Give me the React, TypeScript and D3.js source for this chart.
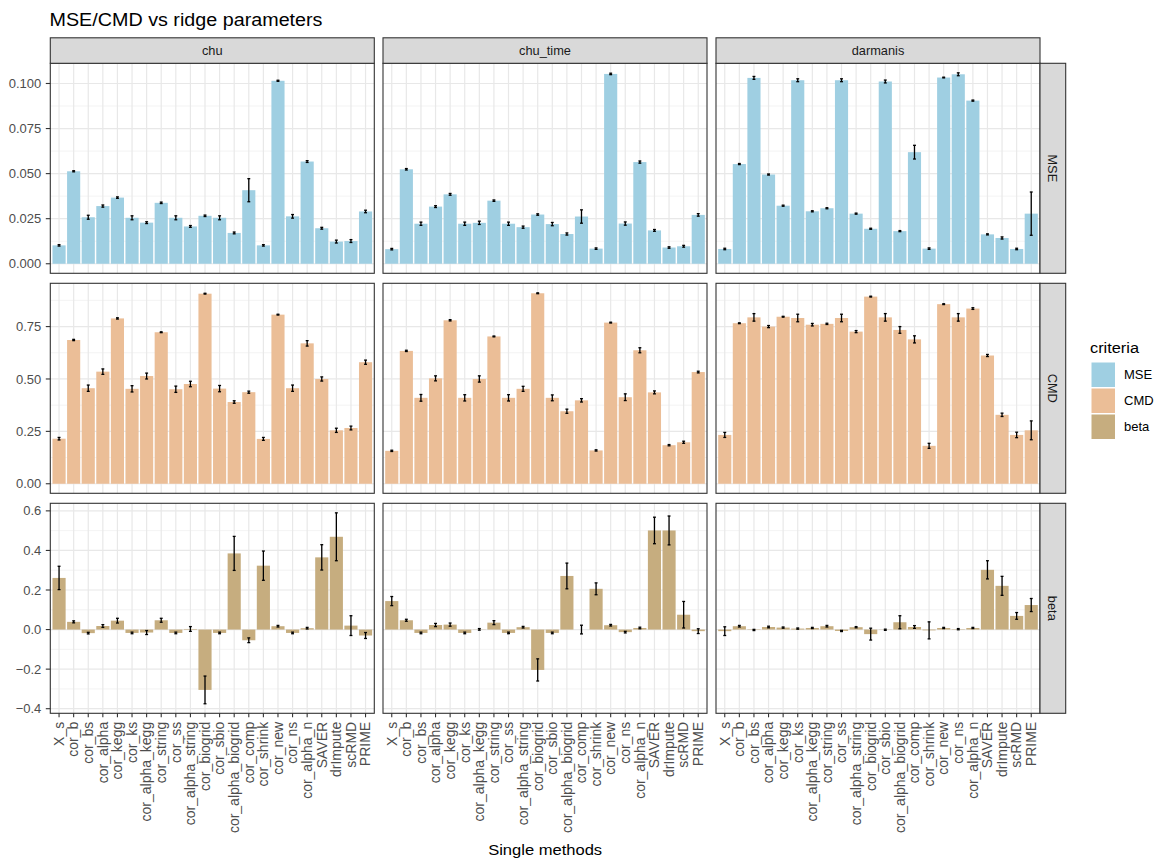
import React from 'react';
import * as d3 from 'd3';

// Methods along the x axis, facet columns (datasets) and facet rows (criteria)
const methods = [
  'X_s', 'cor_b', 'cor_bs', 'cor_alpha', 'cor_kegg', 'cor_ks', 'cor_alpha_kegg',
  'cor_string', 'cor_ss', 'cor_alpha_string', 'cor_biogrid', 'cor_sbio',
  'cor_alpha_biogrid', 'cor_comp', 'cor_shrink', 'cor_new', 'cor_ns',
  'cor_alpha_n', 'SAVER', 'drImpute', 'scRMD', 'PRIME',
];
const datasets = ['chu', 'chu_time', 'darmanis'];
const criteria = ['MSE', 'CMD', 'beta'];
const criteriaColors = ['#9fcfe2', '#ebbe97', '#c6ad7f'];

// MSE
const mseChu = [0.0102, 0.0513, 0.0258, 0.032, 0.0367, 0.0255, 0.0228, 0.0338, 0.0255, 0.0207, 0.0266, 0.0255, 0.0171, 0.0408, 0.0102, 0.1015, 0.0263, 0.0567, 0.0197, 0.0123, 0.0126, 0.029];
const mseChuSe = [0.0004, 0.0003, 0.0011, 0.0006, 0.0004, 0.0011, 0.0005, 0.0004, 0.0011, 0.0005, 0.0004, 0.0011, 0.0005, 0.0064, 0.0004, 0.0003, 0.001, 0.0005, 0.0005, 0.0008, 0.0008, 0.0007];
const mseChuTime = [0.0081, 0.0524, 0.0222, 0.0317, 0.0385, 0.0222, 0.0227, 0.035, 0.0222, 0.0203, 0.0273, 0.022, 0.0165, 0.0262, 0.0084, 0.1053, 0.0223, 0.0564, 0.0185, 0.009, 0.0097, 0.0271];
const mseChuTimeSe = [0.0004, 0.0004, 0.0009, 0.0005, 0.0005, 0.0009, 0.0009, 0.0004, 0.0009, 0.0006, 0.0004, 0.0009, 0.0006, 0.0037, 0.0004, 0.0004, 0.0009, 0.0006, 0.0005, 0.0004, 0.0005, 0.0007];
const mseDarmanis = [0.0082, 0.0553, 0.1031, 0.0495, 0.0322, 0.1018, 0.0291, 0.0308, 0.1018, 0.0278, 0.0194, 0.1011, 0.0181, 0.0619, 0.0084, 0.1033, 0.1051, 0.0905, 0.0163, 0.0143, 0.0082, 0.0278];
const mseDarmanisSe = [0.0004, 0.0003, 0.0008, 0.0003, 0.0003, 0.0008, 0.0003, 0.0003, 0.0008, 0.0003, 0.0003, 0.0008, 0.0003, 0.0038, 0.0004, 0.0002, 0.0008, 0.0003, 0.0003, 0.0006, 0.0004, 0.012];

// CMD
const cmdChu = [0.215, 0.686, 0.456, 0.535, 0.789, 0.453, 0.514, 0.723, 0.451, 0.476, 0.907, 0.454, 0.39, 0.437, 0.214, 0.807, 0.456, 0.67, 0.5, 0.255, 0.266, 0.58];
const cmdChuSe = [0.006, 0.003, 0.015, 0.013, 0.003, 0.015, 0.014, 0.002, 0.015, 0.013, 0.002, 0.015, 0.006, 0.005, 0.007, 0.002, 0.015, 0.013, 0.01, 0.01, 0.009, 0.01];
const cmdChuTime = [0.157, 0.634, 0.41, 0.503, 0.78, 0.41, 0.5, 0.703, 0.41, 0.453, 0.909, 0.41, 0.346, 0.398, 0.159, 0.769, 0.413, 0.637, 0.436, 0.184, 0.198, 0.533];
const cmdChuTimeSe = [0.003, 0.003, 0.016, 0.012, 0.003, 0.015, 0.015, 0.002, 0.015, 0.012, 0.002, 0.014, 0.01, 0.008, 0.003, 0.002, 0.016, 0.012, 0.007, 0.003, 0.005, 0.004];
const cmdDarmanis = [0.233, 0.766, 0.794, 0.75, 0.797, 0.791, 0.759, 0.763, 0.791, 0.726, 0.893, 0.794, 0.734, 0.689, 0.181, 0.857, 0.794, 0.836, 0.612, 0.329, 0.233, 0.255];
const cmdDarmanisSe = [0.012, 0.002, 0.018, 0.005, 0.002, 0.018, 0.006, 0.003, 0.018, 0.005, 0.002, 0.018, 0.016, 0.017, 0.012, 0.002, 0.018, 0.004, 0.005, 0.008, 0.013, 0.045];

// beta
const betaChu = [0.261, 0.039, -0.018, 0.018, 0.045, -0.017, -0.015, 0.047, -0.017, 0.003, -0.305, -0.017, 0.385, -0.054, 0.323, 0.017, -0.017, 0.007, 0.365, 0.469, 0.02, -0.03];
const betaChuSe = [0.059, 0.005, 0.004, 0.007, 0.012, 0.004, 0.01, 0.01, 0.004, 0.012, 0.07, 0.004, 0.086, 0.012, 0.074, 0.004, 0.004, 0.004, 0.064, 0.121, 0.05, 0.015];
const betaChuTime = [0.144, 0.047, -0.017, 0.023, 0.025, -0.017, 0.001, 0.035, -0.017, 0.012, -0.204, -0.017, 0.271, 0.0, 0.206, 0.022, -0.013, 0.008, 0.501, 0.501, 0.075, -0.008];
const betaChuTimeSe = [0.023, 0.005, 0.004, 0.008, 0.008, 0.004, 0.004, 0.01, 0.004, 0.004, 0.056, 0.004, 0.065, 0.022, 0.03, 0.004, 0.004, 0.004, 0.067, 0.073, 0.067, 0.012];
const betaDarmanis = [-0.008, 0.017, -0.002, 0.013, 0.01, 0.005, 0.008, 0.017, -0.007, 0.012, -0.023, -0.001, 0.037, 0.013, -0.004, 0.008, 0.002, 0.008, 0.302, 0.221, 0.069, 0.124];
const betaDarmanisSe = [0.022, 0.004, 0.003, 0.004, 0.003, 0.003, 0.003, 0.004, 0.003, 0.003, 0.03, 0.003, 0.033, 0.007, 0.043, 0.003, 0.003, 0.003, 0.046, 0.048, 0.017, 0.033];

// Y axis breaks per criterion row
const mseTicks = [0, 0.025, 0.05, 0.075, 0.1];
const cmdTicks = [0, 0.25, 0.5, 0.75];
const betaTicks = [-0.4, -0.2, 0, 0.2, 0.4, 0.6];
const tickFormats = ['.3f', '.2f', '.1f'];

// [row][col] lookup tables
const values = [
  [mseChu, mseChuTime, mseDarmanis],
  [cmdChu, cmdChuTime, cmdDarmanis],
  [betaChu, betaChuTime, betaDarmanis],
];
const errors = [
  [mseChuSe, mseChuTimeSe, mseDarmanisSe],
  [cmdChuSe, cmdChuTimeSe, cmdDarmanisSe],
  [betaChuSe, betaChuTimeSe, betaDarmanisSe],
];
const rowTicks = [mseTicks, cmdTicks, betaTicks];

// Layout
const W = 1161;
const H = 860;
const colLeft = [50.3, 383, 716];
const panelW = 324;
const rowTop = [63.3, 283.3, 503.3];
const panelH = 210;
const stripH = 25.5;
const stripW = 25.7;
const FONT = '"Liberation Sans", Arial, Helvetica, sans-serif';

function rowScale(r: number) {
  const lows: number[] = [0];
  const highs: number[] = [0];
  values[r].forEach((vals, c) => {
    vals.forEach((v, i) => {
      const e = errors[r][c][i];
      lows.push(v - e, v);
      highs.push(v + e, v);
    });
  });
  const lo = d3.min(lows) as number;
  const hi = d3.max(highs) as number;
  const pad = (hi - lo) * 0.05;
  return d3.scaleLinear().domain([lo - pad, hi + pad]).range([rowTop[r] + panelH, rowTop[r]]);
}

function minorBreaks(ticks: number[], domain: number[]) {
  const step = ticks[1] - ticks[0];
  const out: number[] = [];
  for (let t = ticks[0] - step / 2; t <= ticks[ticks.length - 1] + step / 2 + 1e-9; t += step) {
    if (t >= domain[0] && t <= domain[1]) out.push(t);
  }
  return out;
}

export default function App() {
  const yScales = criteria.map((_, r) => rowScale(r));

  const panels: React.ReactNode[] = [];
  criteria.forEach((crit, r) => {
    const y = yScales[r];
    const dom = y.domain();
    const minors = minorBreaks(rowTicks[r], dom);
    datasets.forEach((ds, c) => {
      const x = d3.scalePoint<string>()
        .domain(methods)
        .range([colLeft[c], colLeft[c] + panelW])
        .padding(0.6);
      const step = x.step();
      const barW = step * 0.9;
      const capW = step * 0.2;
      const vals = values[r][c];
      const errs = errors[r][c];
      panels.push(
        <g key={`p-${r}-${c}`}>
          <rect x={colLeft[c]} y={rowTop[r]} width={panelW} height={panelH} fill="#ffffff" />
          {minors.map((t) => (
            <line key={`mi${t}`} x1={colLeft[c]} x2={colLeft[c] + panelW} y1={y(t)} y2={y(t)} stroke="#ebebeb" strokeWidth={0.6} />
          ))}
          {rowTicks[r].map((t) => (
            <line key={`ma${t}`} x1={colLeft[c]} x2={colLeft[c] + panelW} y1={y(t)} y2={y(t)} stroke="#e8e8e8" strokeWidth={1.2} />
          ))}
          {methods.map((m) => (
            <line key={`v${m}`} x1={x(m)} x2={x(m)} y1={rowTop[r]} y2={rowTop[r] + panelH} stroke="#e8e8e8" strokeWidth={1.2} />
          ))}
          {methods.map((m, i) => {
            const v = vals[i];
            const y0 = y(0);
            const y1 = y(v);
            return (
              <rect key={`b${m}`} x={(x(m) as number) - barW / 2} y={Math.min(y0, y1)} width={barW}
                height={Math.abs(y0 - y1)} fill={criteriaColors[r]} />
            );
          })}
          {methods.map((m, i) => {
            const cx = x(m) as number;
            const top = y(vals[i] + errs[i]);
            const bot = y(vals[i] - errs[i]);
            return (
              <g key={`e${m}`} stroke="#000000" strokeWidth={1.3}>
                <line x1={cx} x2={cx} y1={top} y2={bot} />
                <line x1={cx - capW / 2} x2={cx + capW / 2} y1={top} y2={top} />
                <line x1={cx - capW / 2} x2={cx + capW / 2} y1={bot} y2={bot} />
              </g>
            );
          })}
          <rect x={colLeft[c]} y={rowTop[r]} width={panelW} height={panelH} fill="none" stroke="#333333" strokeWidth={1.1} />
          {r === criteria.length - 1 && methods.map((m) => {
            const cx = x(m) as number;
            const yb = rowTop[r] + panelH;
            return (
              <g key={`xt${m}`}>
                <line x1={cx} x2={cx} y1={yb} y2={yb + 4} stroke="#333333" strokeWidth={1.1} />
                <text transform={`translate(${cx + 4.8},${yb + 8.5})rotate(-90)`} textAnchor="end"
                  fontSize={14} fill="#4d4d4d" fontFamily={FONT}>{m}</text>
              </g>
            );
          })}
          {c === 0 && rowTicks[r].map((t) => (
            <g key={`yt${t}`}>
              <line x1={colLeft[0] - 4.5} x2={colLeft[0]} y1={y(t)} y2={y(t)} stroke="#333333" strokeWidth={1.1} />
              <text x={colLeft[0] - 9} y={y(t)} dy="0.35em" textAnchor="end" fontSize={13}
                fill="#4d4d4d" fontFamily={FONT}>{d3.format(tickFormats[r])(t)}</text>
            </g>
          ))}
          {r === 0 && (
            <g>
              <rect x={colLeft[c]} y={rowTop[0] - stripH} width={panelW} height={stripH} fill="#d9d9d9" stroke="#333333" strokeWidth={1.1} />
              <text x={colLeft[c] + panelW / 2} y={rowTop[0] - stripH / 2} dy="0.35em" textAnchor="middle"
                fontSize={12.8} fill="#1a1a1a" fontFamily={FONT}>{ds}</text>
            </g>
          )}
          {c === datasets.length - 1 && (
            <g>
              <rect x={colLeft[c] + panelW} y={rowTop[r]} width={stripW} height={panelH} fill="#d9d9d9" stroke="#333333" strokeWidth={1.1} />
              <text transform={`translate(${colLeft[c] + panelW + stripW / 2},${rowTop[r] + panelH / 2})rotate(90)`}
                dy="0.35em" textAnchor="middle" fontSize={12.8} fill="#1a1a1a" fontFamily={FONT}>{crit}</text>
            </g>
          )}
        </g>
      );
    });
  });

  const legendX = 1091.5;
  const legendY = 362.5;
  const keyH = 24.5;
  const keyGap = 1.5;

  return (
    <svg width={W} height={H} style={{ position: 'absolute', left: 0, top: 0, background: '#ffffff' }}>
      <rect x={0} y={0} width={W} height={H} fill="#ffffff" />
      <text x={49.5} y={26} fontSize={17.5} textLength={273} lengthAdjust="spacingAndGlyphs"
        fill="#000000" fontFamily={FONT}>MSE/CMD vs ridge parameters</text>
      {panels}
      <text x={(colLeft[0] + colLeft[2] + panelW) / 2} y={855} textAnchor="middle" fontSize={15.5}
        textLength={114} lengthAdjust="spacingAndGlyphs" fill="#000000" fontFamily={FONT}>Single methods</text>
      <g>
        <text x={1090} y={353} fontSize={15.5} textLength={49} lengthAdjust="spacingAndGlyphs"
          fill="#000000" fontFamily={FONT}>criteria</text>
        {criteria.map((cr, i) => (
          <g key={`lg${cr}`}>
            <rect x={legendX} y={legendY + i * (keyH + keyGap)} width={23.5} height={keyH} fill={criteriaColors[i]} />
            <text x={1124} y={legendY + i * (keyH + keyGap) + keyH / 2} dy="0.35em" fontSize={13}
              fill="#000000" fontFamily={FONT}>{cr}</text>
          </g>
        ))}
      </g>
    </svg>
  );
}
